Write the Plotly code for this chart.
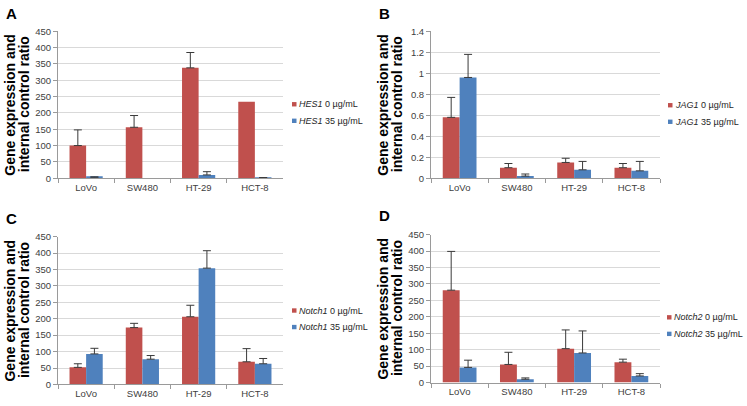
import plotly.graph_objects as go
from plotly.subplots import make_subplots

categories = ["LoVo", "SW480", "HT-29", "HCT-8"]

# Panel A: HES1
hes1_0 = [100, 156, 338, 234]
hes1_0_err = [48, 36, 47, None]
hes1_35 = [3, 0, 10, 1]
hes1_35_err = [1, None, 10, 1]

# Panel B: JAG1
jag1_0 = [0.58, 0.10, 0.15, 0.10]
jag1_0_err = [0.19, 0.04, 0.04, 0.04]
jag1_35 = [0.96, 0.02, 0.08, 0.07]
jag1_35_err = [0.22, 0.02, 0.08, 0.09]

# Panel C: Notch1
notch1_0 = [52, 173, 206, 69]
notch1_0_err = [11, 13, 35, 40]
notch1_35 = [93, 77, 354, 63]
notch1_35_err = [17, 11, 53, 16]

# Panel D: Notch2
notch2_0 = [281, 55, 103, 62]
notch2_0_err = [118, 37, 57, 9]
notch2_35 = [46, 10, 90, 20]
notch2_35_err = [22, 4, 67, 7]

panel_letters = ["A", "B", "C", "D"]
genes = ["HES1", "JAG1", "Notch1", "Notch2"]
y_ranges = [[0, 450], [0, 1.4], [0, 450], [0, 450]]
y_dticks = [50, 0.2, 50, 50]

RED = "#C0504D"
BLUE = "#4F81BD"
ERR = "#3a3a3a"
FONT = "Liberation Sans, Arial, sans-serif"
W, H = 747, 406

fig = make_subplots(rows=2, cols=2)

data = [
    (hes1_0, hes1_0_err, hes1_35, hes1_35_err),
    (jag1_0, jag1_0_err, jag1_35, jag1_35_err),
    (notch1_0, notch1_0_err, notch1_35, notch1_35_err),
    (notch2_0, notch2_0_err, notch2_35, notch2_35_err),
]


def err_list(errs):
    # missing error values become non-numeric so plotly.js skips them
    return ["NaN" if e is None else e for e in errs]


# pixel layout of plot areas: (x0, x1, ytop, ybottom)
boxes = [(58, 283, 26, 177), (431, 660, 26, 177), (58, 283, 237, 389), (431, 660, 235, 387)]

for i, (v0, e0, v35, e35) in enumerate(data):
    r, c = i // 2 + 1, i % 2 + 1
    for vals, errs, col, lab in [(v0, e0, RED, "0"), (v35, e35, BLUE, "35")]:
        fig.add_trace(go.Bar(
            x=categories, y=vals, marker=dict(color=col, line=dict(width=0)),
            name=f"{genes[i]} {lab} µg/mL", showlegend=False,
            error_y=dict(type="data", symmetric=False, array=err_list(errs),
                         arrayminus=["NaN" if e is None else 0 for e in errs],
                         color=ERR, thickness=1, width=4),
        ), row=r, col=c)

xfont = dict(family=FONT, size=9.5, color="#404040")
yfont = dict(family=FONT, size=9.5, color="#404040")
for i in range(4):
    x0, x1, yt, yb = boxes[i]
    xa = "xaxis" if i == 0 else f"xaxis{i+1}"
    ya = "yaxis" if i == 0 else f"yaxis{i+1}"
    fig.layout[xa].update(domain=[x0 / W, x1 / W], showline=True, linecolor="#9a9a9a",
                          linewidth=1, ticks="outside", tickson="boundaries", ticklen=4,
                          tickcolor="#9a9a9a", tickfont=xfont, showgrid=False)
    fig.layout[ya].update(domain=[1 - yb / H, 1 - yt / H], range=y_ranges[i], dtick=y_dticks[i],
                          showline=True, linecolor="#9a9a9a", linewidth=1, ticks="outside",
                          ticklen=4, tickcolor="#9a9a9a", tickfont=yfont,
                          showgrid=True, gridcolor="#d9d9d9", gridwidth=1, zeroline=False,
                          tickformat="~g")

annotations = []
shapes = []
letter_pos = [(4, 8), (377, 8), (4, 218), (377, 215)]
legend_pos = [(292, 101), (668, 102), (292, 313), (667, 320)]
title_lines = ["Gene expression and", "internal control ratio"]
for i in range(4):
    x0, x1, yt, yb = boxes[i]
    lx, ly = letter_pos[i]
    annotations.append(dict(text=f"<b>{panel_letters[i]}</b>", x=lx / W, y=1 - ly / H,
                            xref="paper", yref="paper", xanchor="left", yanchor="middle",
                            showarrow=False, font=dict(family=FONT, size=15, color="#000")))
    for k, line in enumerate(title_lines):
        annotations.append(dict(text=f"<b>{line}</b>",
                                x=(x0 - 48 + k * 13.5) / W, y=1 - (yt + yb) / 2 / H, textangle=-90,
                                xref="paper", yref="paper", xanchor="center", yanchor="middle",
                                showarrow=False, font=dict(family=FONT, size=14, color="#000")))
    gx, gy = legend_pos[i]
    for j, (col, lab) in enumerate([(RED, "0"), (BLUE, "35")]):
        yy = gy + j * 17
        shapes.append(dict(type="rect", xref="paper", yref="paper",
                           x0=gx / W, x1=(gx + 4.5) / W, y0=1 - (yy + 2.25) / H, y1=1 - (yy - 2.25) / H,
                           fillcolor=col, line=dict(width=0)))
        annotations.append(dict(text=f"<i>{genes[i]}</i> {lab} µg/mL", x=(gx + 5) / W, y=1 - yy / H,
                                xref="paper", yref="paper", xanchor="left", yanchor="middle",
                                showarrow=False, font=dict(family=FONT, size=9, color="#262626")))

fig.update_layout(width=W, height=H, margin=dict(l=0, r=0, t=0, b=0),
                  paper_bgcolor="white", plot_bgcolor="white",
                  barmode="group", bargap=0.41, bargroupgap=0,
                  annotations=annotations, shapes=shapes, font=dict(family=FONT))

fig.write_html("out.html", config={"displayModeBar": False},
               post_script="document.body.style.margin='0';document.body.style.padding='0';document.body.style.overflow='hidden';")
